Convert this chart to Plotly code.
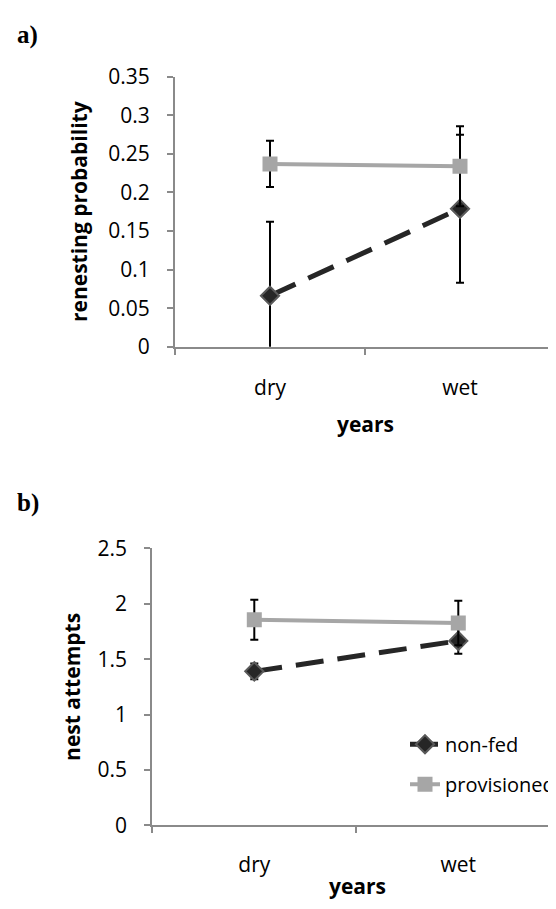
import plotly.graph_objects as go

W, H = 556, 909
OFF = 8  # page body margin offset

years = ["dry", "wet"]

# panel a: renesting probability
a_nonfed = [0.066, 0.179]
a_nonfed_err = [0.096, 0.096]
a_prov = [0.237, 0.234]
a_prov_err = [0.030, 0.052]

# panel b: nest attempts
b_nonfed = [1.39, 1.665]
b_nonfed_err = [0.07, 0.117]
b_prov = [1.855, 1.826]
b_prov_err = [0.18, 0.20]

a_yticks = [0, 0.05, 0.1, 0.15, 0.2, 0.25, 0.3, 0.35]
a_yticklabels = ["0", "0.05", "0.1", "0.15", "0.2", "0.25", "0.3", "0.35"]
b_yticks = [0, 0.5, 1, 1.5, 2, 2.5]
b_yticklabels = ["0", "0.5", "1", "1.5", "2", "2.5"]

DARK = "#262626"
DARK_EDGE = "#5a5a5a"
LIGHT = "#a6a6a6"
AXIS = "#8a8a8a"
FONT = "Open Sans"


def px_x(px):
    return (px - OFF) / W


def px_y(py):
    return 1 - (py - OFF) / H


fig = go.Figure()


def add_panel(xa, ya, nonfed, nonfed_err, prov, prov_err, show):
    fig.add_trace(go.Scatter(
        x=years, y=nonfed, xaxis=xa, yaxis=ya, name="non-fed",
        mode="lines+markers", showlegend=show, legendgroup="g1",
        line=dict(color=DARK, width=5, dash="28px,14px"),
        marker=dict(symbol="diamond", size=14, color=DARK,
                    line=dict(color=DARK_EDGE, width=2)),
        error_y=dict(type="data", array=nonfed_err, visible=True,
                     color="black", thickness=2, width=4),
    ))
    fig.add_trace(go.Scatter(
        x=years, y=prov, xaxis=xa, yaxis=ya, name="provisioned",
        mode="lines+markers", showlegend=show, legendgroup="g2",
        line=dict(color=LIGHT, width=4),
        marker=dict(symbol="square", size=15, color=LIGHT),
        error_y=dict(type="data", array=prov_err, visible=True,
                     color="black", thickness=2, width=4),
    ))


add_panel("x", "y", a_nonfed, a_nonfed_err, a_prov, a_prov_err, False)
add_panel("x2", "y2", b_nonfed, b_nonfed_err, b_prov, b_prov_err, True)

common_x = dict(type="category", showgrid=False, zeroline=False,
                showline=True, linecolor=AXIS, linewidth=2,
                ticks="outside", tickson="boundaries", ticklen=6,
                tickcolor=AXIS, tickwidth=2,
                tickfont=dict(family=FONT, size=21, color="black"),
                fixedrange=True)
common_y = dict(showgrid=False, zeroline=False, showline=True,
                linecolor=AXIS, linewidth=2, ticks="outside", ticklen=6,
                tickcolor=AXIS, tickwidth=2,
                tickfont=dict(family=FONT, size=21, color="black"),
                ticklabelstandoff=13, fixedrange=True)

b_left = 152.3
b_cat = 204.0
b_right = W + OFF

fig.update_layout(
    width=W, height=H,
    margin=dict(l=0, r=0, t=0, b=0),
    paper_bgcolor="white", plot_bgcolor="white",
    xaxis=dict(common_x, domain=[px_x(175), px_x(555)], range=[-0.5, 1.5],
               anchor="y", ticklabelstandoff=21),
    yaxis=dict(common_y, domain=[px_y(342), px_y(63.5)], range=[0, 0.35],
               tickvals=a_yticks, ticktext=a_yticklabels, anchor="x"),
    xaxis2=dict(common_x, domain=[px_x(b_left), 1.0],
                range=[-0.5, -0.5 + (b_right - b_left) / b_cat],
                anchor="y2", ticklabelstandoff=19),
    yaxis2=dict(common_y, domain=[px_y(836), px_y(550)], range=[0, 2.5],
                tickvals=b_yticks, ticktext=b_yticklabels, anchor="x2"),
    showlegend=True,
    legend=dict(x=px_x(405), y=px_y(732), xanchor="left", yanchor="top",
                bgcolor="rgba(0,0,0,0)", traceorder="grouped",
                tracegroupgap=11,
                font=dict(family=FONT, size=20, color="black")),
)

ann = [
    ("renesting probability", 79, 203, -90, dict(family=FONT, size=21, color="black", weight="bold")),
    ("years", 365, 422, 0, dict(family=FONT, size=21, color="black", weight="bold")),
    ("nest attempts", 72, 693, -90, dict(family=FONT, size=21, color="black", weight="bold")),
    ("years", 357, 898, 0, dict(family=FONT, size=21, color="black", weight="bold")),
    ("a)", 27, 20, 0, dict(family="Liberation Serif", size=25, color="black", weight="bold")),
    ("b)", 28, 503, 0, dict(family="Liberation Serif", size=25, color="black", weight="bold")),
]
for text, x, y, ang, f in ann:
    fig.add_annotation(text=text, x=px_x(x), y=px_y(y), xref="paper",
                       yref="paper", showarrow=False, textangle=ang,
                       xanchor="center", yanchor="middle", font=f)

fig.write_html("out.html")
